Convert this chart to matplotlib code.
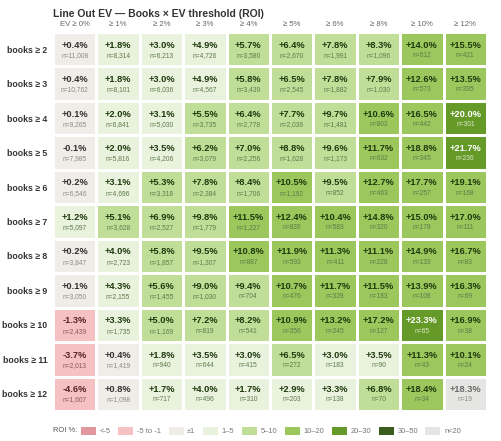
import numpy as np
import matplotlib
matplotlib.use("Agg")
import matplotlib.pyplot as plt
from matplotlib.colors import ListedColormap
from matplotlib.patches import Patch

plt.rcParams["font.family"] = ["Liberation Sans", "DejaVu Sans"]
plt.rcParams["hatch.color"] = "#2a4214"
plt.rcParams["hatch.linewidth"] = 0.6

# --------------------------------------------------------------
# Data
# --------------------------------------------------------------
row_labels = ["books ≥ 2", "books ≥ 3", "books ≥ 4", "books ≥ 5", "books ≥ 6", "books ≥ 7",
              "books ≥ 8", "books ≥ 9", "books ≥ 10", "books ≥ 11", "books ≥ 12"]
col_labels = ["EV ≥ 0%", "≥ 1%", "≥ 2%", "≥ 3%", "≥ 4%", "≥ 5%", "≥ 6%", "≥ 8%", "≥ 10%", "≥ 12%"]

roi = np.array([
    [0.4, 1.8, 3.0, 4.9, 5.7, 6.4, 7.8, 8.3, 14.0, 15.5],
    [0.4, 1.8, 3.0, 4.9, 5.8, 6.5, 7.8, 7.9, 12.6, 13.5],
    [0.1, 2.0, 3.1, 5.5, 6.4, 7.7, 9.7, 10.6, 16.5, 20.0],
    [-0.1, 2.0, 3.5, 6.2, 7.0, 8.8, 9.6, 11.7, 18.8, 21.7],
    [0.2, 3.1, 5.3, 7.8, 8.4, 10.5, 9.5, 12.7, 17.7, 19.1],
    [1.2, 5.1, 6.9, 9.8, 11.5, 12.4, 10.4, 14.8, 15.0, 17.0],
    [0.2, 4.0, 5.8, 9.5, 10.8, 11.9, 11.3, 11.1, 14.9, 16.7],
    [0.1, 4.3, 5.6, 9.0, 9.4, 10.7, 11.7, 11.5, 13.9, 16.3],
    [-1.3, 3.3, 5.0, 7.2, 8.2, 10.9, 13.2, 17.2, 23.3, 16.9],
    [-3.7, 0.4, 1.8, 3.5, 3.0, 6.5, 3.0, 3.5, 11.3, 10.1],
    [-4.6, 0.8, 1.7, 4.0, 1.7, 2.9, 3.3, 6.8, 18.4, 18.3],
])

counts = np.array([
    [11008, 8314, 6213, 4726, 3580, 2670, 1991, 1096, 612, 421],
    [10762, 8101, 6036, 4567, 3439, 2545, 1882, 1030, 573, 395],
    [9265, 6841, 5030, 3735, 2778, 2036, 1481, 803, 442, 301],
    [7985, 5816, 4206, 3079, 2256, 1628, 1173, 632, 345, 236],
    [6546, 4696, 3318, 2384, 1706, 1192, 852, 463, 257, 168],
    [5097, 3628, 2527, 1779, 1227, 839, 583, 320, 179, 111],
    [3847, 2723, 1857, 1307, 887, 593, 411, 228, 133, 83],
    [3050, 2155, 1455, 1030, 704, 476, 328, 183, 108, 69],
    [2439, 1735, 1169, 819, 541, 356, 245, 127, 65, 38],
    [2013, 1419, 940, 644, 415, 272, 183, 90, 43, 24],
    [1607, 1098, 717, 496, 310, 203, 138, 70, 34, 19],
])

bin_labels = ["<-5", "-5 to -1", "±1", "1–5", "5–10", "10–20", "20–30", "30–50", "n<20"]
bin_colors = ["#e0989c", "#f5c1c3", "#f0ede8", "#e8f2dd", "#c1de98", "#9bc75c", "#669a28", "#3b5c1e", "#e5e5e3"]
bin_edges = [-5, -1, 1, 5, 10, 20, 30]
min_n = 20

# class index per cell (last class = too few samples)
cls = np.digitize(roi, bin_edges, right=False)
cls[counts < min_n] = len(bin_colors) - 1

# --------------------------------------------------------------
# Plot
# --------------------------------------------------------------
W, H = 502, 441
fig = plt.figure(figsize=(W / 100, H / 100), dpi=100)
ax = fig.add_axes([53 / W, (H - 411) / H, 434 / W, 379 / H])

cmap = ListedColormap(bin_colors)
ax.pcolormesh(cls, cmap=cmap, vmin=-0.5, vmax=len(bin_colors) - 0.5,
              edgecolors="white", linewidth=1.0)
ax.set_xlim(0, roi.shape[1])
ax.set_ylim(roi.shape[0], 0)

for i in range(roi.shape[0]):
    for j in range(roi.shape[1]):
        c = cls[i, j]
        if c == 8:
            vc, nc = "#6b6b6b", "#8a8a8a"
        elif c >= 6:
            vc, nc = "white", "#dbe8c8"
        elif c <= 1:
            vc, nc = "#5a2424", "#8a5a5a"
        elif c == 2:
            vc, nc = "#333333", "#8a8a8a"
        else:
            vc, nc = "#1f3a0e", "#5f7a4c"
        ax.text(j + 0.5, i + 0.38, f"{roi[i, j]:+.1f}%", ha="center", va="center",
                fontsize=6.7, fontweight="bold", color=vc)
        ax.text(j + 0.5, i + 0.68, f"n={counts[i, j]:,}", ha="center", va="center",
                fontsize=4.8, color=nc)

ax.xaxis.tick_top()
ax.set_xticks(np.arange(roi.shape[1]) + 0.5)
ax.set_xticklabels(col_labels, fontsize=5.6, color="#666666")
ax.set_yticks(np.arange(roi.shape[0]) + 0.5)
ax.set_yticklabels(row_labels, fontsize=6.3, fontweight="bold", color="#333333")
ax.tick_params(length=0, pad=4)
ax.tick_params(axis="x", pad=3)
for s in ax.spines.values():
    s.set_visible(False)

fig.text(53 / W, 1 - 14 / H, "Line Out EV — Books × EV threshold (ROI)",
         fontsize=7.5, fontweight="bold", color="#333333", ha="left", va="center")

# legend
fig.text(53 / W, 1 - 431 / H, "ROI %:", fontsize=5.4, color="#555555", ha="left", va="center")
handles = [Patch(facecolor=c, edgecolor="none", hatch=("...." if k == 7 else None))
           for k, c in enumerate(bin_colors)]
leg = fig.legend(handles, bin_labels, loc="center left", bbox_to_anchor=(81 / W, 1 - 431 / H),
                 ncol=len(bin_labels), frameon=False, fontsize=5.4, handlelength=2.0,
                 handleheight=1.2, handletextpad=0.5, columnspacing=1.0, borderpad=0,
                 borderaxespad=0)
for t in leg.get_texts():
    t.set_color("#777777")

fig.savefig("out.png", dpi=100, facecolor="white")
